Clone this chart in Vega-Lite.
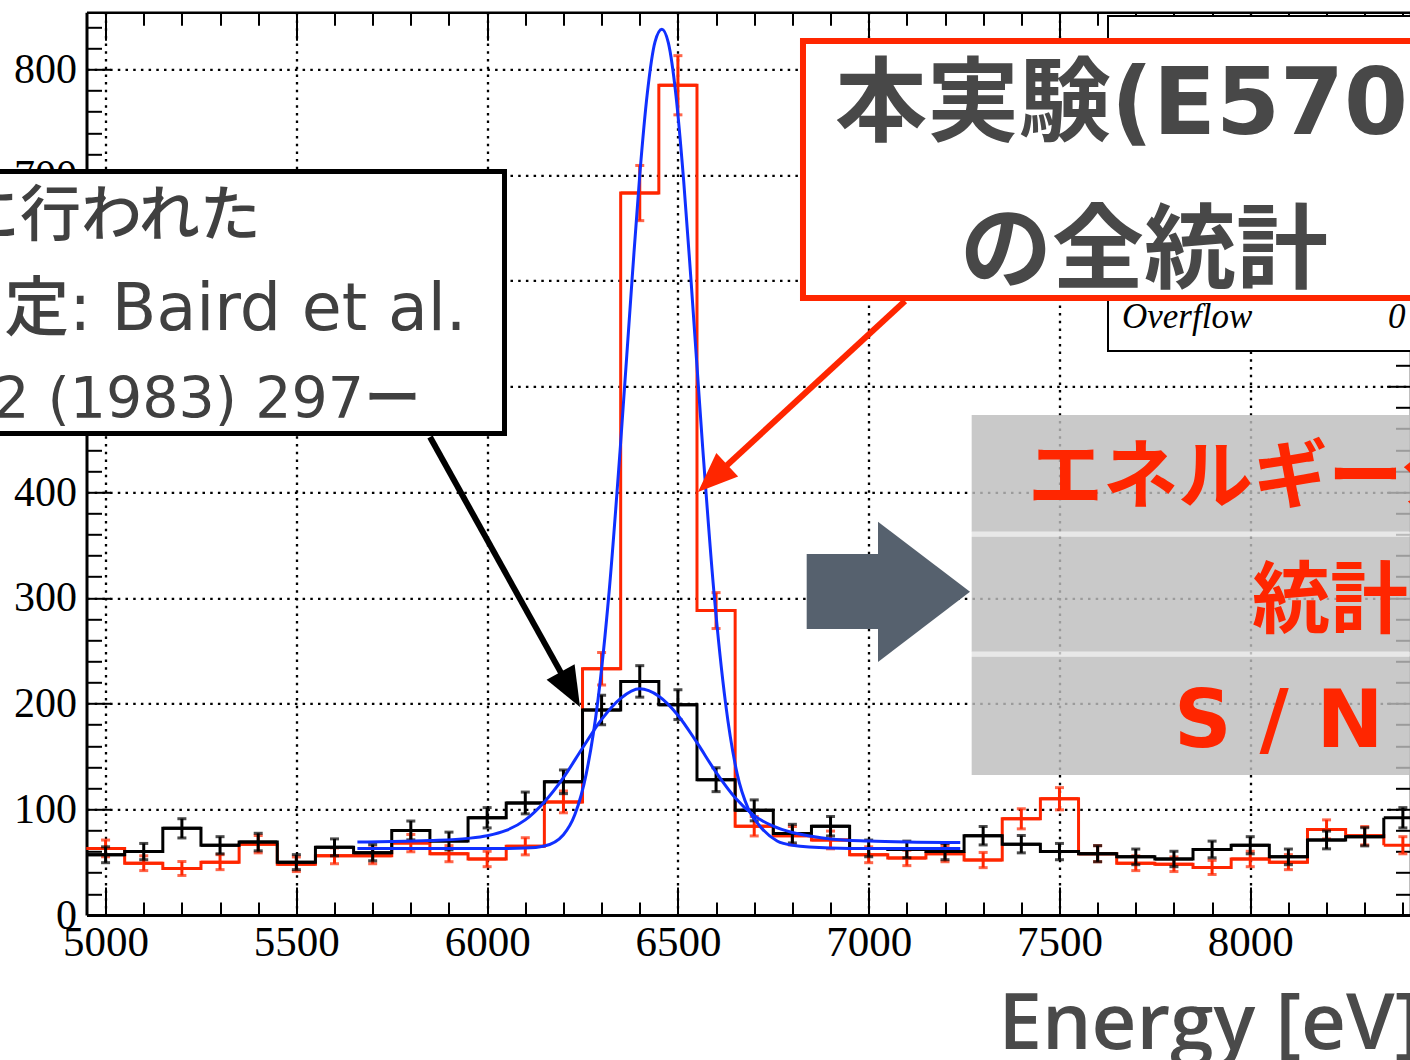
{
  "$schema": "https://vega.github.io/schema/vega-lite/v6.json",
  "width": 1324,
  "height": 902.7,
  "autosize": {"type": "none"},
  "padding": {"left": 86.5, "top": 12.3, "right": 0, "bottom": 145},
  "background": "white",
  "config": {"view": {"stroke": null}},
  "datasets": {
    "bins": [
      {"E": 5000, "lo": 4950, "hi": 5050, "black": 57, "blackErr": 7.5, "red": 63, "redErr": 7.9},
      {"E": 5100, "lo": 5050, "hi": 5150, "black": 60, "blackErr": 7.7, "red": 49, "redErr": 7.0},
      {"E": 5200, "lo": 5150, "hi": 5250, "black": 82, "blackErr": 9.1, "red": 44, "redErr": 6.6},
      {"E": 5300, "lo": 5250, "hi": 5350, "black": 66, "blackErr": 8.1, "red": 50, "redErr": 7.1},
      {"E": 5400, "lo": 5350, "hi": 5450, "black": 69, "blackErr": 8.3, "red": 67, "redErr": 8.2},
      {"E": 5500, "lo": 5450, "hi": 5550, "black": 50, "blackErr": 7.1, "red": 48, "redErr": 6.9},
      {"E": 5600, "lo": 5550, "hi": 5650, "black": 64, "blackErr": 8.0, "red": 56, "redErr": 7.5},
      {"E": 5700, "lo": 5650, "hi": 5750, "black": 59, "blackErr": 7.7, "red": 56, "redErr": 7.5},
      {"E": 5800, "lo": 5750, "hi": 5850, "black": 80, "blackErr": 8.9, "red": 68, "redErr": 8.2},
      {"E": 5900, "lo": 5850, "hi": 5950, "black": 70, "blackErr": 8.4, "red": 58, "redErr": 7.6},
      {"E": 6000, "lo": 5950, "hi": 6050, "black": 92, "blackErr": 9.6, "red": 53, "redErr": 7.3},
      {"E": 6100, "lo": 6050, "hi": 6150, "black": 106, "blackErr": 10.3, "red": 65, "redErr": 8.1},
      {"E": 6200, "lo": 6150, "hi": 6250, "black": 126, "blackErr": 11.2, "red": 107, "redErr": 10.3},
      {"E": 6300, "lo": 6250, "hi": 6350, "black": 194, "blackErr": 13.9, "red": 233, "redErr": 15.3},
      {"E": 6400, "lo": 6350, "hi": 6450, "black": 221, "blackErr": 14.9, "red": 683, "redErr": 26.1},
      {"E": 6500, "lo": 6450, "hi": 6550, "black": 199, "blackErr": 14.1, "red": 785, "redErr": 28.0},
      {"E": 6600, "lo": 6550, "hi": 6650, "black": 128, "blackErr": 11.3, "red": 288, "redErr": 17.0},
      {"E": 6700, "lo": 6650, "hi": 6750, "black": 99, "blackErr": 9.9, "red": 84, "redErr": 9.2},
      {"E": 6800, "lo": 6750, "hi": 6850, "black": 77, "blackErr": 8.8, "red": 75, "redErr": 8.7},
      {"E": 6900, "lo": 6850, "hi": 6950, "black": 84, "blackErr": 9.2, "red": 71, "redErr": 8.4},
      {"E": 7000, "lo": 6950, "hi": 7050, "black": 63, "blackErr": 7.9, "red": 57, "redErr": 7.5},
      {"E": 7100, "lo": 7050, "hi": 7150, "black": 62, "blackErr": 7.9, "red": 54, "redErr": 7.3},
      {"E": 7200, "lo": 7150, "hi": 7250, "black": 60, "blackErr": 7.7, "red": 58, "redErr": 7.6},
      {"E": 7300, "lo": 7250, "hi": 7350, "black": 75, "blackErr": 8.7, "red": 52, "redErr": 7.2},
      {"E": 7400, "lo": 7350, "hi": 7450, "black": 67, "blackErr": 8.2, "red": 91, "redErr": 9.5},
      {"E": 7500, "lo": 7450, "hi": 7550, "black": 60, "blackErr": 7.7, "red": 110, "redErr": 10.5},
      {"E": 7600, "lo": 7550, "hi": 7650, "black": 58, "blackErr": 7.6, "red": 58, "redErr": 7.6},
      {"E": 7700, "lo": 7650, "hi": 7750, "black": 55, "blackErr": 7.4, "red": 49, "redErr": 7.0},
      {"E": 7800, "lo": 7750, "hi": 7850, "black": 53, "blackErr": 7.3, "red": 48, "redErr": 6.9},
      {"E": 7900, "lo": 7850, "hi": 7950, "black": 62, "blackErr": 7.9, "red": 45, "redErr": 6.7},
      {"E": 8000, "lo": 7950, "hi": 8050, "black": 66, "blackErr": 8.1, "red": 53, "redErr": 7.3},
      {"E": 8100, "lo": 8050, "hi": 8150, "black": 55, "blackErr": 7.4, "red": 50, "redErr": 7.1},
      {"E": 8200, "lo": 8150, "hi": 8250, "black": 71, "blackErr": 8.4, "red": 81, "redErr": 9.0},
      {"E": 8300, "lo": 8250, "hi": 8350, "black": 74, "blackErr": 8.6, "red": 75, "redErr": 8.7},
      {"E": 8400, "lo": 8350, "hi": 8450, "black": 92, "blackErr": 9.6, "red": 66, "redErr": 8.1}
    ],
    "fitWide": [
      {"E": 5660, "f": 69}, {"E": 5750, "f": 69.5}, {"E": 5850, "f": 70.5}, {"E": 5950, "f": 72.5},
      {"E": 6000, "f": 75}, {"E": 6050, "f": 80}, {"E": 6100, "f": 90}, {"E": 6150, "f": 107},
      {"E": 6200, "f": 130}, {"E": 6250, "f": 158}, {"E": 6300, "f": 185}, {"E": 6350, "f": 205},
      {"E": 6400, "f": 214}, {"E": 6450, "f": 207}, {"E": 6500, "f": 189}, {"E": 6550, "f": 163},
      {"E": 6600, "f": 135}, {"E": 6650, "f": 111}, {"E": 6700, "f": 94}, {"E": 6750, "f": 84},
      {"E": 6800, "f": 78}, {"E": 6850, "f": 74.5}, {"E": 6900, "f": 72}, {"E": 7000, "f": 70},
      {"E": 7100, "f": 69}, {"E": 7240, "f": 68.5}
    ],
    "fitNarrow": [
      {"E": 5660, "f": 63}, {"E": 5900, "f": 63}, {"E": 6050, "f": 63}, {"E": 6100, "f": 63.3},
      {"E": 6150, "f": 65.3}, {"E": 6200, "f": 76}, {"E": 6230, "f": 95}, {"E": 6260, "f": 134},
      {"E": 6290, "f": 202}, {"E": 6320, "f": 307}, {"E": 6350, "f": 447}, {"E": 6380, "f": 602},
      {"E": 6400, "f": 700}, {"E": 6420, "f": 778}, {"E": 6440, "f": 826}, {"E": 6458, "f": 838},
      {"E": 6475, "f": 825}, {"E": 6495, "f": 775}, {"E": 6515, "f": 695}, {"E": 6535, "f": 597},
      {"E": 6565, "f": 442}, {"E": 6595, "f": 303}, {"E": 6625, "f": 200}, {"E": 6655, "f": 134},
      {"E": 6685, "f": 100}, {"E": 6715, "f": 84}, {"E": 6760, "f": 70}, {"E": 6800, "f": 66},
      {"E": 6900, "f": 63.5}, {"E": 7000, "f": 63}, {"E": 7240, "f": 63}
    ]
  },
  "resolve": {"axis": {"x": "independent", "y": "independent"}},
  "layer": [
    {
      "data": {"name": "bins"},
      "mark": {"type": "line", "interpolate": "step-after", "color": "#ff2600", "strokeWidth": 3},
      "encoding": {
        "x": {
          "field": "lo", "type": "quantitative",
          "scale": {"domain": [4950, 8420], "nice": false, "zero": false},
          "axis": {
            "orient": "bottom",
            "values": [5000,5100,5200,5300,5400,5500,5600,5700,5800,5900,6000,6100,6200,6300,6400,6500,6600,6700,6800,6900,7000,7100,7200,7300,7400,7500,7600,7700,7800,7900,8000,8100,8200,8300,8400],
            "labelExpr": "datum.value % 500 === 0 ? format(datum.value, 'd') : ''",
            "labelFont": "Liberation Serif", "labelFontSize": 43, "labelColor": "black",
            "labelBaseline": "top", "labelPadding": 34.5, "labelFlush": false, "labelOverlap": false,
            "tickSize": {"condition": {"test": "datum.value % 500 === 0", "value": -28}, "value": -13},
            "tickWidth": 2, "tickColor": "black",
            "domainColor": "black", "domainWidth": 3,
            "grid": true, "gridColor": "black", "gridWidth": 2.3, "gridDash": [2.5, 5.2],
            "gridOpacity": {"condition": {"test": "datum.value % 500 === 0", "value": 1}, "value": 0},
            "title": "Energy [eV]",
            "titleFont": "Open Sans", "titleFontSize": 78, "titleFontWeight": 600, "titleColor": "#4a4a4a",
            "titleAlign": "left", "titleBaseline": "alphabetic", "titleX": 911.5, "titleY": 133.3
          }
        },
        "y": {
          "field": "red", "type": "quantitative",
          "scale": {"domain": [0, 854], "nice": false, "zero": false},
          "axis": {
            "orient": "left",
            "values": [0,20,40,60,80,100,120,140,160,180,200,220,240,260,280,300,320,340,360,380,400,420,440,460,480,500,520,540,560,580,600,620,640,660,680,700,720,740,760,780,800,820,840],
            "labelExpr": "datum.value % 100 === 0 ? format(datum.value, 'd') : ''",
            "labelFont": "Liberation Serif", "labelFontSize": 42, "labelColor": "black",
            "labelPadding": 34, "labelFlush": false, "labelOverlap": false,
            "tickSize": {"condition": {"test": "datum.value % 100 === 0", "value": -24}, "value": -15},
            "tickWidth": 2, "tickColor": "black",
            "domainColor": "black", "domainWidth": 3,
            "grid": true, "gridColor": "black", "gridWidth": 2.3, "gridDash": [2.5, 5.2],
            "gridOpacity": {"condition": {"test": "datum.value % 100 === 0 && datum.value > 0", "value": 1}, "value": 0},
            "title": null
          }
        }
      }
    },
    {
      "data": {"name": "bins"},
      "mark": {"type": "rule", "color": "#ff2600", "strokeWidth": 3},
      "encoding": {
        "x": {"field": "lo", "type": "quantitative", "axis": null},
        "x2": {"field": "hi"},
        "y": {"field": "red", "type": "quantitative", "axis": null}
      }
    },
    {
      "data": {"name": "bins"},
      "mark": {"type": "errorbar", "color": "#ff2600", "rule": {"strokeWidth": 3}, "ticks": {"size": 9, "thickness": 3, "color": "#ff2600"}},
      "encoding": {
        "x": {"field": "E", "type": "quantitative", "axis": null},
        "y": {"field": "red", "type": "quantitative", "axis": null},
        "yError": {"field": "redErr"}
      }
    },
    {
      "data": {"name": "bins"},
      "mark": {"type": "line", "interpolate": "step-after", "color": "black", "strokeWidth": 3},
      "encoding": {
        "x": {
          "field": "lo", "type": "quantitative",
          "axis": {
            "orient": "top", "labels": false, "title": null, "grid": false,
            "values": [5000,5100,5200,5300,5400,5500,5600,5700,5800,5900,6000,6100,6200,6300,6400,6500,6600,6700,6800,6900,7000,7100,7200,7300,7400,7500,7600,7700,7800,7900,8000,8100,8200,8300,8400],
            "tickSize": {"condition": {"test": "datum.value % 500 === 0", "value": -28}, "value": -13},
            "tickWidth": 2, "tickColor": "black", "domainColor": "black", "domainWidth": 2.5
          }
        },
        "y": {
          "field": "black", "type": "quantitative",
          "axis": {
            "orient": "right", "labels": false, "title": null, "grid": false,
            "values": [0,20,40,60,80,100,120,140,160,180,200,220,240,260,280,300,320,340,360,380,400,420,440,460,480,500,520,540,560,580,600,620,640,660,680,700,720,740,760,780,800,820,840],
            "tickSize": {"condition": {"test": "datum.value % 100 === 0", "value": -24}, "value": -15},
            "tickWidth": 2, "tickColor": "black", "domainColor": "black", "domainWidth": 2.5
          }
        }
      }
    },
    {
      "data": {"name": "bins"},
      "mark": {"type": "rule", "color": "black", "strokeWidth": 3},
      "encoding": {
        "x": {"field": "lo", "type": "quantitative", "axis": null},
        "x2": {"field": "hi"},
        "y": {"field": "black", "type": "quantitative", "axis": null}
      }
    },
    {
      "data": {"name": "bins"},
      "mark": {"type": "errorbar", "color": "black", "rule": {"strokeWidth": 3}, "ticks": {"size": 9, "thickness": 3, "color": "black"}},
      "encoding": {
        "x": {"field": "E", "type": "quantitative", "axis": null},
        "y": {"field": "black", "type": "quantitative", "axis": null},
        "yError": {"field": "blackErr"}
      }
    },
    {
      "data": {"name": "fitWide"},
      "mark": {"type": "line", "interpolate": "monotone", "color": "#1030ff", "strokeWidth": 3},
      "encoding": {
        "x": {"field": "E", "type": "quantitative", "axis": null},
        "y": {"field": "f", "type": "quantitative", "axis": null}
      }
    },
    {
      "data": {"name": "fitNarrow"},
      "mark": {"type": "line", "interpolate": "monotone", "color": "#1030ff", "strokeWidth": 3},
      "encoding": {
        "x": {"field": "E", "type": "quantitative", "axis": null},
        "y": {"field": "f", "type": "quantitative", "axis": null}
      }
    },
    {
      "data": {"values": [{}]},
      "mark": {"type": "rect", "fill": "white", "stroke": "black", "strokeWidth": 5},
      "encoding": {
        "x": {"datum": 4566, "type": "quantitative", "axis": null},
        "x2": {"datum": 6045.5},
        "y": {"datum": 703.3, "type": "quantitative", "axis": null},
        "y2": {"datum": 455.5}
      }
    },
    {
      "data": {"values": [{}]},
      "mark": {"type": "text", "text": "に行われた", "align": "right", "baseline": "alphabetic", "font": "DejaVu Sans, Noto Sans CJK JP", "fontSize": 61, "fontWeight": 500, "color": "#404040"},
      "encoding": {
        "x": {"datum": 5407, "type": "quantitative", "axis": null},
        "y": {"datum": 642.4, "type": "quantitative", "axis": null}
      }
    },
    {
      "data": {"values": [{}]},
      "mark": {"type": "text", "text": "測定: Baird et al.", "align": "right", "baseline": "alphabetic", "font": "DejaVu Sans, Noto Sans CJK JP", "fontSize": 65, "fontWeight": 500, "color": "#404040"},
      "encoding": {
        "x": {"datum": 5945.9, "type": "quantitative", "axis": null},
        "y": {"datum": 553.4, "type": "quantitative", "axis": null}
      }
    },
    {
      "data": {"values": [{}]},
      "mark": {"type": "text", "text": "2 (1983) 297ー", "align": "right", "baseline": "alphabetic", "font": "DejaVu Sans, Noto Sans CJK JP", "fontSize": 57, "fontWeight": 500, "color": "#404040"},
      "encoding": {
        "x": {"datum": 5826.7, "type": "quantitative", "axis": null},
        "y": {"datum": 470.2, "type": "quantitative", "axis": null}
      }
    },
    {
      "data": {"values": [{}]},
      "mark": {"type": "rule", "color": "black", "strokeWidth": 6},
      "encoding": {
        "x": {"datum": 5850.3, "type": "quantitative", "axis": null},
        "y": {"datum": 452.2, "type": "quantitative", "axis": null},
        "x2": {"datum": 6211.7},
        "y2": {"datum": 217.5}
      }
    },
    {
      "data": {"values": [{}]},
      "mark": {"type": "point", "shape": "M0,0L0.8,2L-0.8,2Z", "size": 1600, "angle": 151, "filled": true, "color": "black", "opacity": 1, "strokeWidth": 0},
      "encoding": {
        "x": {"datum": 6243.4, "type": "quantitative", "axis": null},
        "y": {"datum": 196.8, "type": "quantitative", "axis": null}
      }
    },
    {
      "data": {"values": [{}]},
      "mark": {"type": "rect", "fill": "white", "stroke": "black", "strokeWidth": 2},
      "encoding": {
        "x": {"datum": 7627.2, "type": "quantitative", "axis": null},
        "x2": {"datum": 8916.6},
        "y": {"datum": 850.5, "type": "quantitative", "axis": null},
        "y2": {"datum": 533.6}
      }
    },
    {
      "data": {"values": [{}]},
      "mark": {"type": "text", "text": "Overflow", "align": "left", "baseline": "alphabetic", "font": "Liberation Serif", "fontStyle": "italic", "fontSize": 35, "color": "black"},
      "encoding": {
        "x": {"datum": 7663.9, "type": "quantitative", "axis": null},
        "y": {"datum": 555.3, "type": "quantitative", "axis": null}
      }
    },
    {
      "data": {"values": [{}]},
      "mark": {"type": "text", "text": "0", "align": "left", "baseline": "alphabetic", "font": "Liberation Serif", "fontStyle": "italic", "fontSize": 35, "color": "black"},
      "encoding": {
        "x": {"datum": 8361, "type": "quantitative", "axis": null},
        "y": {"datum": 555.3, "type": "quantitative", "axis": null}
      }
    },
    {
      "data": {"values": [{}]},
      "mark": {"type": "rect", "fill": "white", "stroke": "#ff2600", "strokeWidth": 6},
      "encoding": {
        "x": {"datum": 6827.8, "type": "quantitative", "axis": null},
        "x2": {"datum": 8916.6},
        "y": {"datum": 826.8, "type": "quantitative", "axis": null},
        "y2": {"datum": 583.7}
      }
    },
    {
      "data": {"values": [{}]},
      "mark": {"type": "text", "text": "本実験(E570)", "align": "left", "baseline": "alphabetic", "font": "DejaVu Sans, Noto Sans CJK JP", "fontSize": 92, "fontWeight": "bold", "color": "#484848"},
      "encoding": {
        "x": {"datum": 6911.7, "type": "quantitative", "axis": null},
        "y": {"datum": 738.9, "type": "quantitative", "axis": null}
      }
    },
    {
      "data": {"values": [{}]},
      "mark": {"type": "text", "text": "の全統計", "align": "left", "baseline": "alphabetic", "font": "Noto Sans CJK JP", "fontSize": 92, "fontWeight": "bold", "color": "#484848"},
      "encoding": {
        "x": {"datum": 7239.3, "type": "quantitative", "axis": null},
        "y": {"datum": 599.8, "type": "quantitative", "axis": null}
      }
    },
    {
      "data": {"values": [{}]},
      "mark": {"type": "rule", "color": "#ff2600", "strokeWidth": 6},
      "encoding": {
        "x": {"datum": 7095.2, "type": "quantitative", "axis": null},
        "y": {"datum": 580.9, "type": "quantitative", "axis": null},
        "x2": {"datum": 6600.9},
        "y2": {"datum": 416.3}
      }
    },
    {
      "data": {"values": [{}]},
      "mark": {"type": "point", "shape": "M0,0L0.8,2L-0.8,2Z", "size": 1600, "angle": 227, "filled": true, "color": "#ff2600", "opacity": 1, "strokeWidth": 0},
      "encoding": {
        "x": {"datum": 6552.6, "type": "quantitative", "axis": null},
        "y": {"datum": 400.2, "type": "quantitative", "axis": null}
      }
    },
    {
      "data": {"values": [{}]},
      "mark": {"type": "rect", "fill": "#bdbdbd", "opacity": 0.82},
      "encoding": {
        "x": {"datum": 7269.9, "type": "quantitative", "axis": null},
        "x2": {"datum": 8916.6},
        "y": {"datum": 473.0, "type": "quantitative", "axis": null},
        "y2": {"datum": 362.6}
      }
    },
    {
      "data": {"values": [{}]},
      "mark": {"type": "rect", "fill": "#e3e3e3", "opacity": 0.82},
      "encoding": {
        "x": {"datum": 7269.9, "type": "quantitative", "axis": null},
        "x2": {"datum": 8916.6},
        "y": {"datum": 362.6, "type": "quantitative", "axis": null},
        "y2": {"datum": 357.9}
      }
    },
    {
      "data": {"values": [{}]},
      "mark": {"type": "rect", "fill": "#bdbdbd", "opacity": 0.82},
      "encoding": {
        "x": {"datum": 7269.9, "type": "quantitative", "axis": null},
        "x2": {"datum": 8916.6},
        "y": {"datum": 357.9, "type": "quantitative", "axis": null},
        "y2": {"datum": 249.1}
      }
    },
    {
      "data": {"values": [{}]},
      "mark": {"type": "rect", "fill": "#e3e3e3", "opacity": 0.82},
      "encoding": {
        "x": {"datum": 7269.9, "type": "quantitative", "axis": null},
        "x2": {"datum": 8916.6},
        "y": {"datum": 249.1, "type": "quantitative", "axis": null},
        "y2": {"datum": 244.4}
      }
    },
    {
      "data": {"values": [{}]},
      "mark": {"type": "rect", "fill": "#bdbdbd", "opacity": 0.82},
      "encoding": {
        "x": {"datum": 7269.9, "type": "quantitative", "axis": null},
        "x2": {"datum": 8916.6},
        "y": {"datum": 244.4, "type": "quantitative", "axis": null},
        "y2": {"datum": 132.4}
      }
    },
    {
      "data": {"values": [{}]},
      "mark": {"type": "text", "text": "エネルギー分解能", "align": "left", "baseline": "alphabetic", "font": "Noto Sans CJK JP", "fontSize": 75, "fontWeight": "bold", "color": "#ff2600"},
      "encoding": {
        "x": {"datum": 7417.5, "type": "quantitative", "axis": null},
        "y": {"datum": 390.7, "type": "quantitative", "axis": null}
      }
    },
    {
      "data": {"values": [{}]},
      "mark": {"type": "text", "text": "統計", "align": "left", "baseline": "alphabetic", "font": "Noto Sans CJK JP", "fontSize": 78, "fontWeight": "bold", "color": "#ff2600"},
      "encoding": {
        "x": {"datum": 8004.6, "type": "quantitative", "axis": null},
        "y": {"datum": 272.5, "type": "quantitative", "axis": null}
      }
    },
    {
      "data": {"values": [{}]},
      "mark": {"type": "text", "text": "S / N 比", "align": "left", "baseline": "alphabetic", "font": "DejaVu Sans, Noto Sans CJK JP", "fontSize": 80, "fontWeight": "bold", "color": "#ff2600"},
      "encoding": {
        "x": {"datum": 7800.2, "type": "quantitative", "axis": null},
        "y": {"datum": 158.9, "type": "quantitative", "axis": null}
      }
    },
    {
      "data": {"values": [{}]},
      "mark": {"type": "rect", "fill": "#56616e"},
      "encoding": {
        "x": {"datum": 6837.5, "type": "quantitative", "axis": null},
        "x2": {"datum": 7024.4},
        "y": {"datum": 341.5, "type": "quantitative", "axis": null},
        "y2": {"datum": 270.6}
      }
    },
    {
      "data": {"values": [{}]},
      "mark": {"type": "point", "shape": "M0,-0.761L1,0L0,0.761Z", "size": 33856, "filled": true, "color": "#56616e", "opacity": 1, "strokeWidth": 0},
      "encoding": {
        "x": {"datum": 7024.4, "type": "quantitative", "axis": null},
        "y": {"datum": 305.7, "type": "quantitative", "axis": null}
      }
    }
  ]
}
